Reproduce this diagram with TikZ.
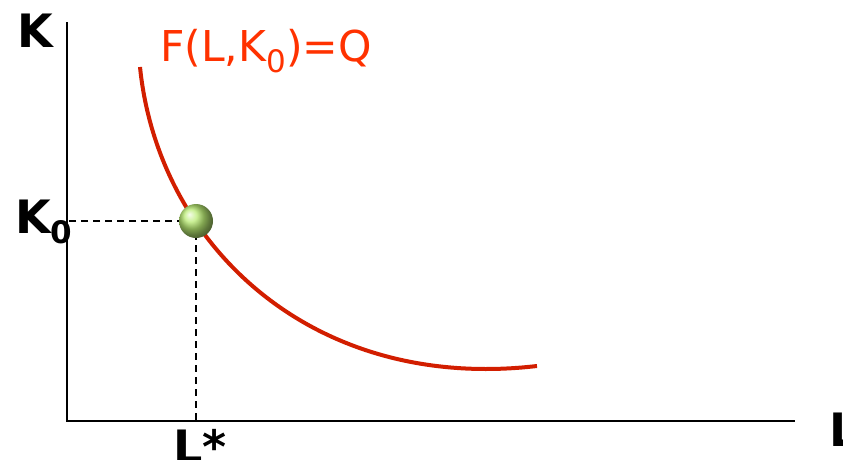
\documentclass[tikz,border=0pt]{standalone}
\usepackage{fontspec}
\setmainfont{DejaVu Sans}
\usetikzlibrary{positioning}
\definecolor{curve}{RGB}{210,30,0}
\definecolor{curvetext}{RGB}{255,50,0}
\definecolor{ballgreen}{RGB}{185,235,115}
\newcommand{\lowsub}[2]{\raisebox{-#2}{\fontsize{31}{31}\selectfont #1}}
\tikzset{
  axis/.style={draw=black,line width=2pt},
  guide/.style={draw=black,line width=1.7pt,dash pattern=on 7pt off 5pt},
  isoquant/.style={draw=curve,line width=4pt},
  axislabel/.style={anchor=base west,inner sep=0pt,
                    font=\fontsize{46}{46}\selectfont\bfseries},
  curvelabel/.style={anchor=base west,inner sep=0pt,text=curvetext,
                     font=\fontsize{42.5}{42.5}\selectfont},
  optpoint/.style={circle,inner sep=0pt,minimum size=34pt,shading=ball,
                   ball color=ballgreen}
}
\begin{document}
\begin{tikzpicture}[x=1pt,y=-1pt]
  \useasboundingbox (0,0) rectangle (843,459);

  % Axes
  \coordinate (origin) at (67,421);
  \coordinate (ytop) at (67,22);
  \coordinate (xend) at (795,421);
  \draw[axis] (ytop) -- (origin) -- (xend);
  \node[axislabel] (klabel) at (17,47) {K};
  \node[axislabel] (llabel) at (829,446) {L};

  % Isoquant
  \coordinate (qstart) at (140,67);
  \coordinate (qend) at (537,366);
  \draw[isoquant] (qstart) .. controls (158,245) and (312,392) .. (qend);
  \node[curvelabel] (qlabel) at (160,61) {F(L,K\lowsub{0}{11pt})=Q};

  % Optimum
  \coordinate (opt) at (196,221);
  \draw[guide] (opt) -- (opt -| origin);
  \draw[guide] (opt) -- (opt |- origin);
  \node[optpoint] (ball) at (opt) {};
  \node[axislabel] (k0label) at (15,233) {K\lowsub{0}{10pt}};
  \node[axislabel] (lstar) at (173,463) {L*};
\end{tikzpicture}
\end{document}
